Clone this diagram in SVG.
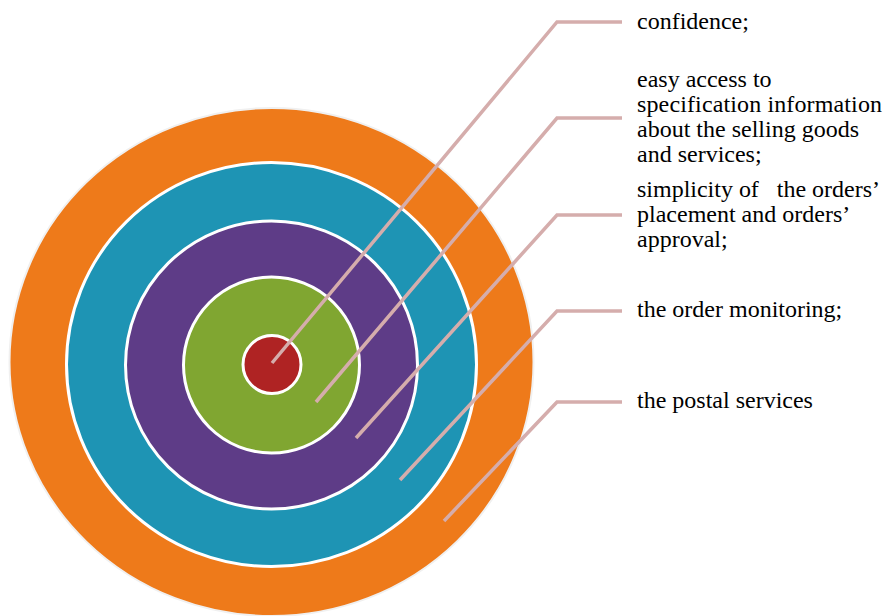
<svg xmlns="http://www.w3.org/2000/svg" width="885" height="616" viewBox="0 0 885 616">
<style>
.ring{stroke:#ffffff;stroke-width:3}
.conn{fill:none;stroke:#D5ADAC;stroke-width:3.5;stroke-linejoin:miter}
.lbl{font-family:"Liberation Serif",serif;font-size:24px;fill:#000000;white-space:pre}
</style>
<rect width="885" height="616" fill="#ffffff"/>
<g id="ring-postal"><ellipse cx="271.5" cy="362" rx="262" ry="254" fill="#EE7A1A" stroke="#f0f0f0" stroke-width="2"/></g>
<g id="ring-monitoring"><ellipse class="ring" cx="271.5" cy="364.5" rx="205" ry="202" fill="#1E94B4"/></g>
<g id="ring-simplicity"><ellipse class="ring" cx="271.5" cy="365" rx="146" ry="144" fill="#5E3C87"/></g>
<g id="ring-access"><ellipse class="ring" cx="271.5" cy="365" rx="88" ry="88" fill="#80A631"/></g>
<g id="ring-confidence"><circle class="ring" cx="272" cy="364.5" r="29" fill="#AF2323"/></g>
<g id="connectors">
<polyline class="conn" points="272,363 557,22 622,22"/>
<polyline class="conn" points="316,402 557,118 622,118"/>
<polyline class="conn" points="356,438 557,215 622,215"/>
<polyline class="conn" points="400,480 557,311 622,311"/>
<polyline class="conn" points="444,521 557,402 622,402"/>
</g>
<g id="label-confidence"><text class="lbl" x="637" y="29">confidence;</text></g>
<g id="label-access"><text class="lbl" x="637" y="87">easy access to</text><text class="lbl" x="637" y="112" textLength="245" lengthAdjust="spacing">specification information</text><text class="lbl" x="637" y="137">about the selling goods</text><text class="lbl" x="637" y="162">and services;</text></g>
<g id="label-simplicity"><text class="lbl" x="637" y="197" textLength="243" lengthAdjust="spacing">simplicity of   the orders’</text><text class="lbl" x="637" y="222">placement and orders’</text><text class="lbl" x="637" y="247">approval;</text></g>
<g id="label-monitoring"><text class="lbl" x="637" y="317">the order monitoring;</text></g>
<g id="label-postal"><text class="lbl" x="637" y="408">the postal services</text></g>
</svg>
